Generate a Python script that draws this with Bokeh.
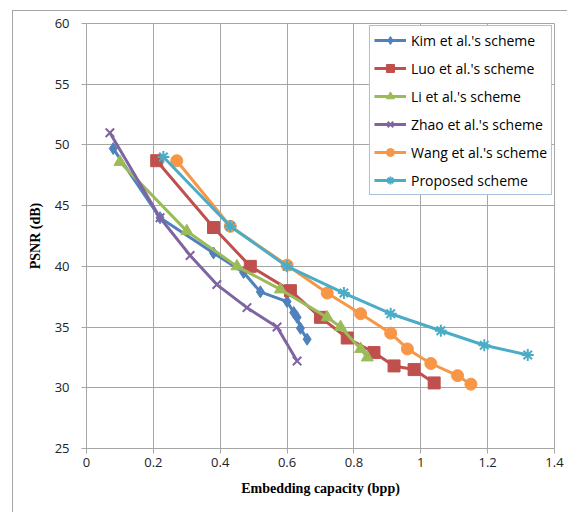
from bokeh.plotting import figure
from bokeh.models import Range1d, FixedTicker, Legend, LegendItem
from bokeh.embed import file_html
from bokeh.resources import INLINE

# ---- data ----
kim_x = [0.08, 0.22, 0.38, 0.47, 0.52, 0.60, 0.62, 0.63, 0.64, 0.66]
kim_y = [49.7, 44.0, 41.1, 39.5, 37.9, 37.1, 36.2, 35.8, 34.9, 34.0]

luo_x = [0.21, 0.38, 0.49, 0.61, 0.70, 0.78, 0.86, 0.92, 0.98, 1.04]
luo_y = [48.7, 43.2, 40.0, 38.0, 35.8, 34.1, 32.9, 31.8, 31.5, 30.4]

li_x = [0.10, 0.30, 0.45, 0.58, 0.72, 0.76, 0.82, 0.84]
li_y = [48.6, 42.9, 40.0, 38.1, 35.8, 35.0, 33.2, 32.5]

zhao_x = [0.07, 0.22, 0.31, 0.39, 0.48, 0.57, 0.63]
zhao_y = [51.0, 44.0, 40.9, 38.5, 36.6, 35.0, 32.2]

wang_x = [0.27, 0.43, 0.60, 0.72, 0.82, 0.91, 0.96, 1.03, 1.11, 1.15]
wang_y = [48.7, 43.3, 40.1, 37.8, 36.1, 34.5, 33.2, 32.0, 31.0, 30.3]

prop_x = [0.23, 0.43, 0.60, 0.77, 0.91, 1.06, 1.19, 1.32]
prop_y = [49.0, 43.3, 40.0, 37.8, 36.1, 34.7, 33.5, 32.7]

series_names = ["Kim et al.'s scheme", "Luo et al.'s scheme", "Li et al.'s scheme",
                "Zhao et al.'s scheme", "Wang et al.'s scheme", "Proposed scheme"]

x_ticks = [0, 0.2, 0.4, 0.6, 0.8, 1.0, 1.2, 1.4]
x_tick_labels = ["0", "0.2", "0.4", "0.6", "0.8", "1", "1.2", "1.4"]
y_ticks = [25, 30, 35, 40, 45, 50, 55, 60]
y_tick_labels = ["25", "30", "35", "40", "45", "50", "55", "60"]

# ---- styles ----
colors = ["#4F81BD", "#C0504D", "#9BBB59", "#8064A2", "#F79646", "#4BACC6"]
markers = ["diamond", "square", "triangle", "x", "circle", "asterisk"]
sizes = [12, 12, 12, 12, 12, 12]
grid_color = "#A6A6A6"
tick_font = "Open Sans"
label_font = "Liberation Serif"

p = figure(width=555, height=502,
           x_range=Range1d(0, 1.4), y_range=Range1d(25, 60),
           output_backend="svg", toolbar_location=None,
           min_border_left=73, min_border_right=14,
           min_border_top=12, min_border_bottom=65,
           margin=(10, 0, 0, 12))
p.styles = {"border-top": "1px solid #A6A6A6", "border-left": "1px solid #A6A6A6"}

p.outline_line_color = grid_color
p.xgrid.grid_line_color = grid_color
p.ygrid.grid_line_color = grid_color
p.xgrid.ticker = FixedTicker(ticks=x_ticks)
p.ygrid.ticker = FixedTicker(ticks=y_ticks)

p.xaxis.ticker = FixedTicker(ticks=x_ticks)
p.yaxis.ticker = FixedTicker(ticks=y_ticks)
p.xaxis.major_label_overrides = {t: l for t, l in zip(x_ticks, x_tick_labels)}
p.yaxis.major_label_overrides = {t: l for t, l in zip(y_ticks, y_tick_labels)}

for ax in (p.xaxis[0], p.yaxis[0]):
    ax.axis_line_color = grid_color
    ax.major_tick_line_color = grid_color
    ax.minor_tick_line_color = None
    ax.major_tick_out = 5
    ax.major_tick_in = 0
    ax.major_label_text_font = tick_font
    ax.major_label_text_font_size = "13px"
    ax.major_label_text_color = "#222222"
    ax.axis_label_text_font = label_font
    ax.axis_label_text_font_style = "bold"
    ax.axis_label_text_font_size = "14px"
    ax.axis_label_text_color = "#000000"

p.xaxis.axis_label = "Embedding capacity (bpp)"
p.yaxis.axis_label = "PSNR (dB)"
p.xaxis.major_label_standoff = 4
p.xaxis.axis_label_standoff = 11
p.yaxis.major_label_standoff = 12
p.yaxis.axis_label_standoff = 9

xs = [kim_x, luo_x, li_x, zhao_x, wang_x, prop_x]
ys = [kim_y, luo_y, li_y, zhao_y, wang_y, prop_y]

items = []
for i in range(6):
    ln = p.line(xs[i], ys[i], line_color=colors[i], line_width=3, line_join="round")
    sc = p.scatter(xs[i], ys[i], marker=markers[i], size=sizes[i],
                   fill_color=colors[i], line_color=colors[i],
                   line_width=2 if markers[i] in ("x", "asterisk") else 1)
    items.append(LegendItem(label=series_names[i], renderers=[ln, sc]))

legend = Legend(items=items, location="top_right")
legend.label_text_font = tick_font
legend.label_text_font_size = "14px"
legend.label_text_color = "#000000"
legend.label_height = 20
legend.glyph_height = 20
legend.glyph_width = 32
legend.spacing = 8
legend.padding = 4
legend.margin = 2
legend.label_standoff = 5
legend.border_line_color = "#4F81BD"
legend.border_line_width = 1
legend.background_fill_alpha = 1
p.add_layout(legend)

open("out.html", "w").write(file_html(p, INLINE))
